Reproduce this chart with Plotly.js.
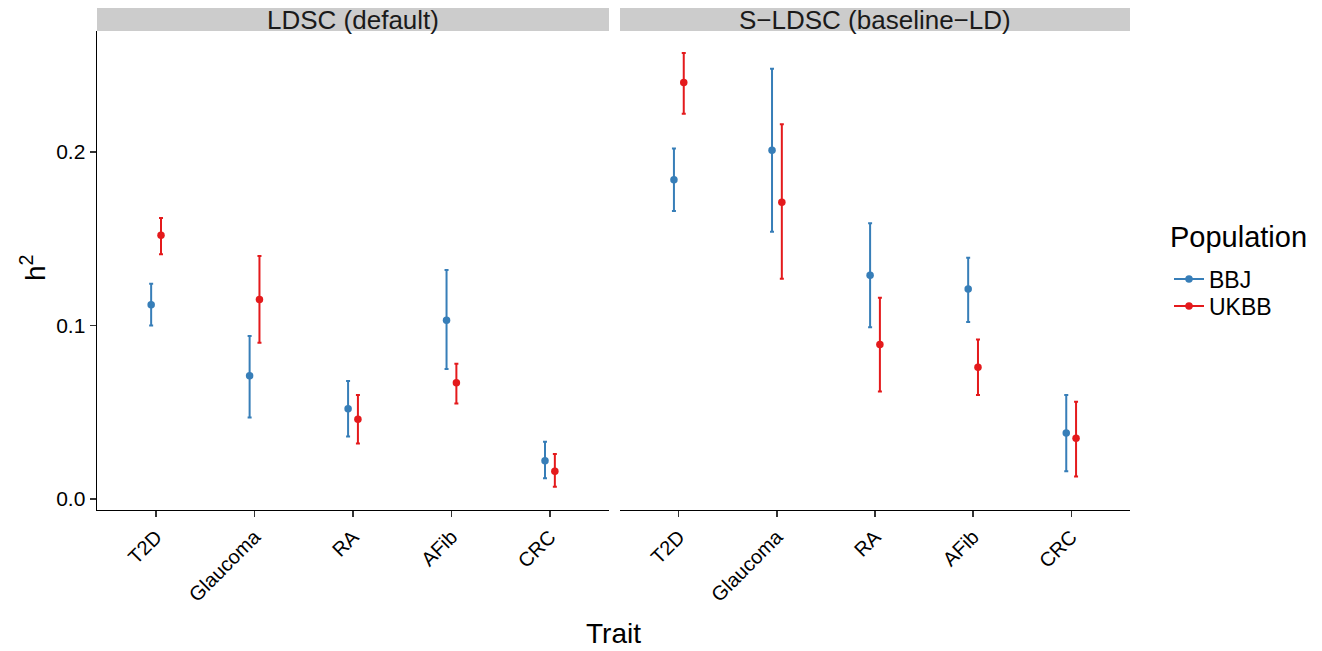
<!DOCTYPE html>
<html>
<head>
<meta charset="utf-8">
<script src="https://cdn.plot.ly/plotly-3.0.1.min.js"></script>
<style>html,body{margin:0;padding:0;background:#fff;}#chart{width:1322px;height:651px;}</style>
</head>
<body>
<div id="chart"></div>
<script>
// ---- Data ----
const categories = ["T2D", "Glaucoma", "RA", "AFib", "CRC"];
const panels = ["LDSC (default)", "S\u2212LDSC (baseline\u2212LD)"];
const populations = ["BBJ", "UKBB"];

// LDSC (default)
const ldsc_bbj      = [0.112, 0.071, 0.052, 0.103, 0.022];
const ldsc_bbj_lo   = [0.100, 0.047, 0.036, 0.075, 0.012];
const ldsc_bbj_hi   = [0.124, 0.094, 0.068, 0.132, 0.033];
const ldsc_ukbb     = [0.152, 0.115, 0.046, 0.067, 0.016];
const ldsc_ukbb_lo  = [0.141, 0.090, 0.032, 0.055, 0.007];
const ldsc_ukbb_hi  = [0.162, 0.140, 0.060, 0.078, 0.026];

// S-LDSC (baseline-LD)
const sldsc_bbj     = [0.184, 0.201, 0.129, 0.121, 0.038];
const sldsc_bbj_lo  = [0.166, 0.154, 0.099, 0.102, 0.016];
const sldsc_bbj_hi  = [0.202, 0.248, 0.159, 0.139, 0.060];
const sldsc_ukbb    = [0.240, 0.171, 0.089, 0.076, 0.035];
const sldsc_ukbb_lo = [0.222, 0.127, 0.062, 0.060, 0.013];
const sldsc_ukbb_hi = [0.257, 0.216, 0.116, 0.092, 0.056];

const yTicks = [0.0, 0.1, 0.2];
const yTickText = ["0.0", "0.1", "0.2"];

// ---- Styling ----
const colors = {BBJ: "#377EB8", UKBB: "#E41A1C"};
const FONT = "Liberation Sans, Arial, Helvetica, sans-serif";
const W = 1322, H = 651;
const dodge = {BBJ: -0.05, UKBB: 0.05};

function px(v){ return v / W; }
function py(v){ return 1 - v / H; }

const xDom1 = [px(97), px(609)];
const xDom2 = [px(620), px(1130)];
const yDom = [py(510), py(31)];

const catPos = categories.map((c, i) => i + 1);

function mkTrace(pop, vals, lo, hi, xaxis) {
  return {
    type: "scatter",
    mode: "markers",
    x: catPos.map(p => p + dodge[pop]),
    y: vals,
    xaxis: xaxis, yaxis: "y",
    marker: {color: colors[pop], size: 7.5},
    error_y: {
      type: "data", symmetric: false,
      array: hi.map((h, i) => h - vals[i]),
      arrayminus: lo.map((l, i) => vals[i] - l),
      color: colors[pop], thickness: 2, width: 2
    },
    showlegend: false,
    hoverinfo: "y",
    name: pop
  };
}

const traces = [
  mkTrace("BBJ", ldsc_bbj, ldsc_bbj_lo, ldsc_bbj_hi, "x"),
  mkTrace("UKBB", ldsc_ukbb, ldsc_ukbb_lo, ldsc_ukbb_hi, "x"),
  mkTrace("BBJ", sldsc_bbj, sldsc_bbj_lo, sldsc_bbj_hi, "x2"),
  mkTrace("UKBB", sldsc_ukbb, sldsc_ukbb_lo, sldsc_ukbb_hi, "x2")
];
// legend-only entries, one legend box per population for tight spacing
populations.forEach((pop, i) => {
  traces.push({
    type: "scatter", mode: "lines+markers",
    x: [null], y: [null], xaxis: "x", yaxis: "y",
    name: pop, showlegend: true,
    legend: i === 0 ? "legend" : "legend2",
    line: {color: colors[pop], width: 2},
    marker: {color: colors[pop], size: 7.5}
  });
});

const xCommon = {
  range: [0.4, 5.6],
  tickmode: "array",
  tickvals: catPos,
  ticktext: categories,
  tickangle: -45,
  tickfont: {family: FONT, size: 20, color: "#000"},
  ticks: "outside", ticklen: 6, tickwidth: 1.3, tickcolor: "#333",
  showline: true, linecolor: "#000", linewidth: 1.4,
  showgrid: false, zeroline: false,
  anchor: "y"
};

const legendCommon = {
  x: px(1169), xanchor: "left", yanchor: "middle",
  font: {family: FONT, size: 23, color: "#000"},
  bgcolor: "rgba(0,0,0,0)",
  itemwidth: 30
};

const layout = {
  width: W, height: H,
  margin: {l: 0, r: 0, t: 0, b: 0},
  paper_bgcolor: "#fff", plot_bgcolor: "#fff",
  font: {family: FONT, color: "#000"},
  xaxis: Object.assign({}, xCommon, {domain: xDom1}),
  xaxis2: Object.assign({}, xCommon, {domain: xDom2}),
  yaxis: {
    domain: yDom,
    range: [(499 - 510) / 1735, (499 - 31) / 1735],
    tickmode: "array", tickvals: yTicks, ticktext: yTickText,
    tickfont: {family: FONT, size: 21, color: "#000"},
    ticks: "outside", ticklen: 6, tickwidth: 1.3, tickcolor: "#333",
    showline: true, linecolor: "#000", linewidth: 1.4,
    showgrid: false, zeroline: false,
    anchor: "x"
  },
  shapes: [
    {type: "rect", xref: "paper", yref: "paper", x0: xDom1[0], x1: xDom1[1], y0: py(31), y1: py(8), fillcolor: "#cccccc", line: {width: 0}, layer: "below"},
    {type: "rect", xref: "paper", yref: "paper", x0: xDom2[0], x1: xDom2[1], y0: py(31), y1: py(8), fillcolor: "#cccccc", line: {width: 0}, layer: "below"}
  ],
  annotations: [
    {text: panels[0], xref: "paper", yref: "paper", x: (xDom1[0] + xDom1[1]) / 2, y: py(20), showarrow: false, xanchor: "center", yanchor: "middle", font: {family: FONT, size: 26, color: "#1a1a1a"}},
    {text: panels[1], xref: "paper", yref: "paper", x: (xDom2[0] + xDom2[1]) / 2, y: py(20), showarrow: false, xanchor: "center", yanchor: "middle", font: {family: FONT, size: 26, color: "#1a1a1a"}},
    {text: "Trait", xref: "paper", yref: "paper", x: px(613), y: py(633), showarrow: false, xanchor: "center", yanchor: "middle", font: {family: FONT, size: 28, color: "#000"}},
    {text: "h<sup>2</sup>", xref: "paper", yref: "paper", x: px(33), y: py(268), showarrow: false, textangle: -90, xanchor: "center", yanchor: "middle", font: {family: FONT, size: 28, color: "#000"}},
    {text: "Population", xref: "paper", yref: "paper", x: px(1168), y: py(237), showarrow: false, xanchor: "left", yanchor: "middle", font: {family: FONT, size: 29, color: "#000"}}
  ],
  legend: Object.assign({}, legendCommon, {y: py(279)}),
  legend2: Object.assign({}, legendCommon, {y: py(306)})
};

Plotly.newPlot("chart", traces, layout, {displayModeBar: false, staticPlot: true});
</script>
</body>
</html>
